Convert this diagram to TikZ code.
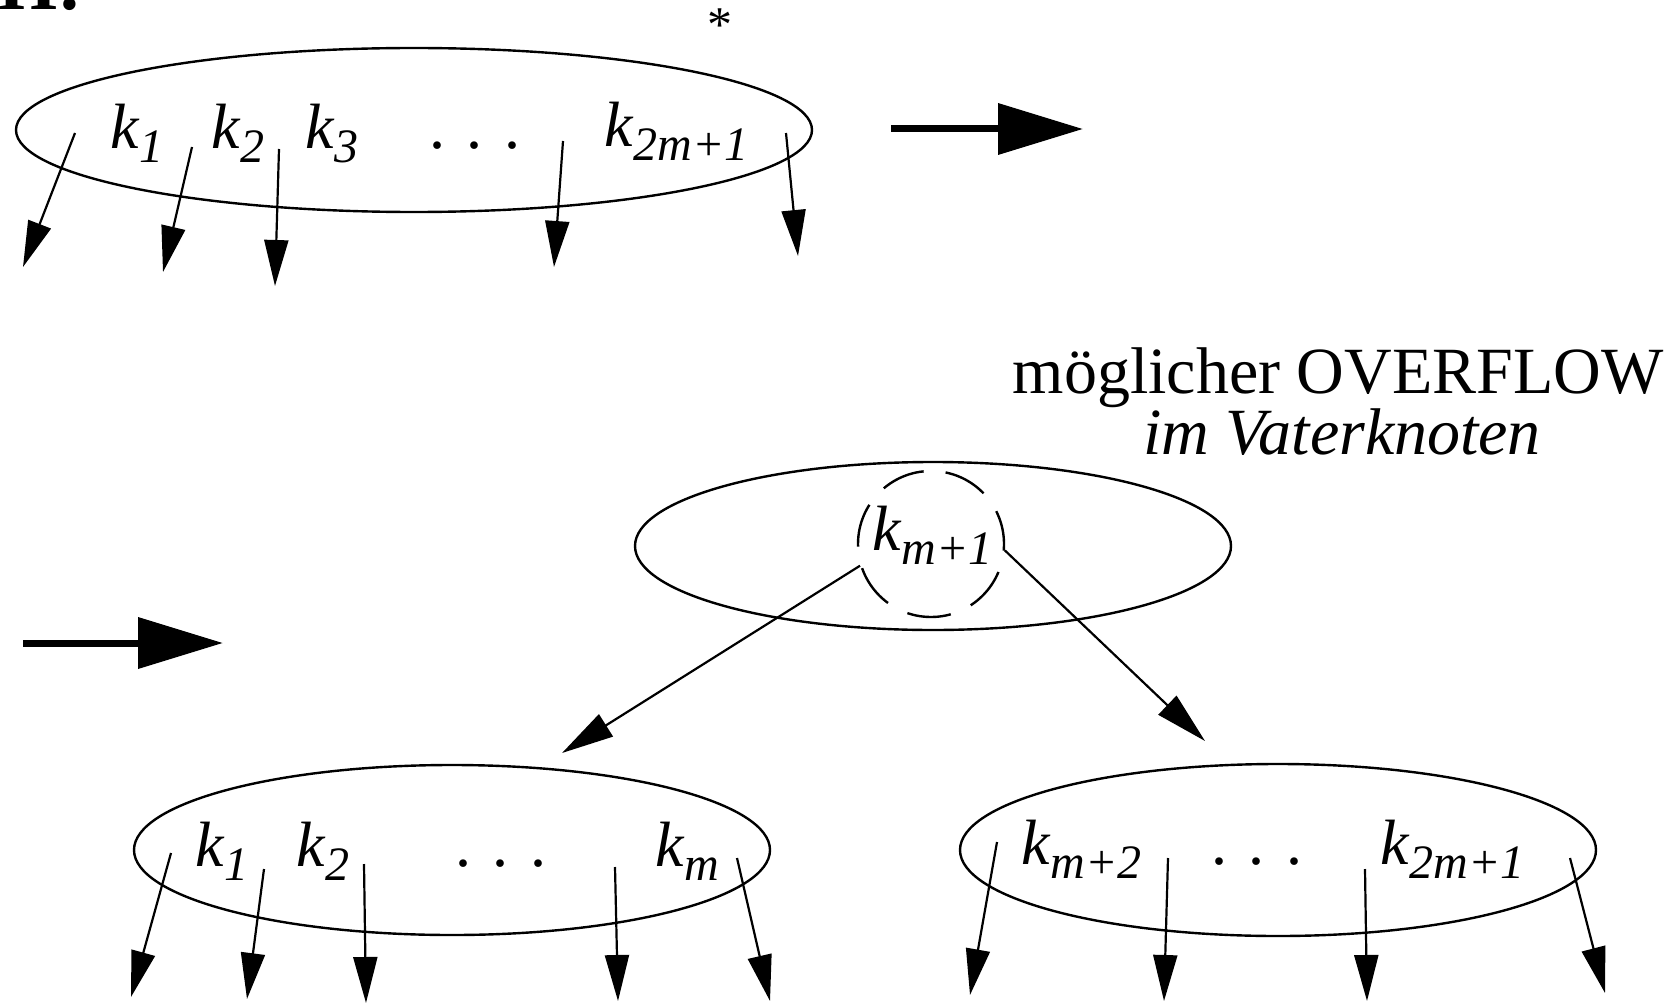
\documentclass[tikz,border=0pt]{standalone}
\usepackage{fontspec}
\setmainfont{Liberation Serif}
\usetikzlibrary{arrows.meta,shapes.geometric}
\newcommand{\kk}[1]{\textit{k}\raisebox{-14pt}{\fontsize{48}{50}\selectfont\itshape #1}}
\begin{document}
\begin{tikzpicture}[x=1pt,y=-1pt,
  bnode/.style={draw, ellipse, line width=2.4pt, inner sep=0},
  lab/.style={anchor=base west, inner sep=0, font=\fontsize{64}{70}\selectfont},
  dts/.style={anchor=base, inner sep=0, font=\fontsize{64}{70}\selectfont},
  ptr/.style={line width=2.2pt, -{Triangle[length=46pt,width=24pt]}},
  big/.style={line width=7pt, -{Triangle[length=85pt,width=50pt]}},
  txt/.style={anchor=base, inner sep=0, font=\fontsize{66}{70}\selectfont}]
\useasboundingbox (0,0) rectangle (1672,1003);
\clip (0,0) rectangle (1672,1003);

% partial heading at top left
\node[anchor=base west, inner sep=0, font=\fontsize{76}{80}\selectfont\bfseries] (head) at (-2,10) {H:};
\node[inner sep=0, font=\fontsize{50}{50}\selectfont] (star) at (720,25) {*};

% top node
\node[bnode, minimum width=796pt, minimum height=164pt] (top) at (414,130) {};
\node[lab] (t1) at (110,149) {\kk{1}};
\node[lab] (t2) at (211,149) {\kk{2}};
\node[lab] (t3) at (305,149) {\kk{3}};
\node[dts] (td) at (475,149) {.\,\,.\,\,.};
\node[lab] (t4) at (604,147) {\kk{2m+1}};
\coordinate (tp1a) at (75,133);  \coordinate (tp1b) at (23,267);
\coordinate (tp2a) at (192,147); \coordinate (tp2b) at (163,272);
\coordinate (tp3a) at (279,149); \coordinate (tp3b) at (275,286);
\coordinate (tp4a) at (563,141); \coordinate (tp4b) at (554,267);
\coordinate (tp5a) at (786,133); \coordinate (tp5b) at (798,256);
\foreach \i in {1,...,5} \draw[ptr] (tp\i a) -- (tp\i b);

\coordinate (a1s) at (891,129); \coordinate (a1e) at (1083,129);
\draw[big] (a1s) -- (a1e);

% overflow text
\node[txt] (ov1) at (1338,393) {möglicher OVERFLOW};
\node[txt] (ov2) at (1342,454) {\itshape im Vaterknoten};

% middle node
\node[bnode, minimum width=596pt, minimum height=168pt] (mid) at (933,546) {};
\node[circle, draw, dash pattern=on 44pt off 22pt, dash phase=10pt, line width=2.4pt, minimum size=146pt, inner sep=0] (kc) at (931,544) {};
\node[lab] (km) at (872,550) {\kk{m+1}};

\coordinate (a2s) at (23,643); \coordinate (a2e) at (223,643);
\draw[big] (a2s) -- (a2e);

% bottom left node
\node[bnode, minimum width=636pt, minimum height=170pt] (bl) at (452,850) {};
\node[lab] (b1) at (195,866) {\kk{1}};
\node[lab] (b2) at (296,866) {\kk{2}};
\node[dts] (bd) at (501,866) {.\,\,.\,\,.};
\node[lab] (b3) at (655,866) {\kk{m}};

% bottom right node
\node[bnode, minimum width=636pt, minimum height=172pt] (br) at (1278,850) {};
\node[lab] (c1) at (1021,864) {\kk{m+2}};
\node[dts] (cd) at (1257,864) {.\,\,.\,\,.};
\node[lab] (c2) at (1380,864) {\kk{2m+1}};

\coordinate (l1) at (562,753);
\coordinate (r1) at (1205,741);
\draw[ptr, -{Triangle[length=52pt,width=26pt]}] (kc.197) -- (l1);
\draw[ptr, -{Triangle[length=52pt,width=26pt]}] (kc.-5) -- (r1);

\coordinate (bp1a) at (171,853); \coordinate (bp1b) at (131,997);
\coordinate (bp2a) at (264,869); \coordinate (bp2b) at (247,999);
\coordinate (bp3a) at (364,864); \coordinate (bp3b) at (366,1003);
\coordinate (bp4a) at (615,867); \coordinate (bp4b) at (618,1001);
\coordinate (bp5a) at (737,858); \coordinate (bp5b) at (770,1001);
\foreach \i in {1,...,5} \draw[ptr] (bp\i a) -- (bp\i b);

\coordinate (cp1a) at (997,842);  \coordinate (cp1b) at (970,995);
\coordinate (cp2a) at (1168,858); \coordinate (cp2b) at (1164,1001);
\coordinate (cp3a) at (1365,869); \coordinate (cp3b) at (1367,1001);
\coordinate (cp4a) at (1570,858); \coordinate (cp4b) at (1605,993);
\foreach \i in {1,...,4} \draw[ptr] (cp\i a) -- (cp\i b);
\end{tikzpicture}
\end{document}
